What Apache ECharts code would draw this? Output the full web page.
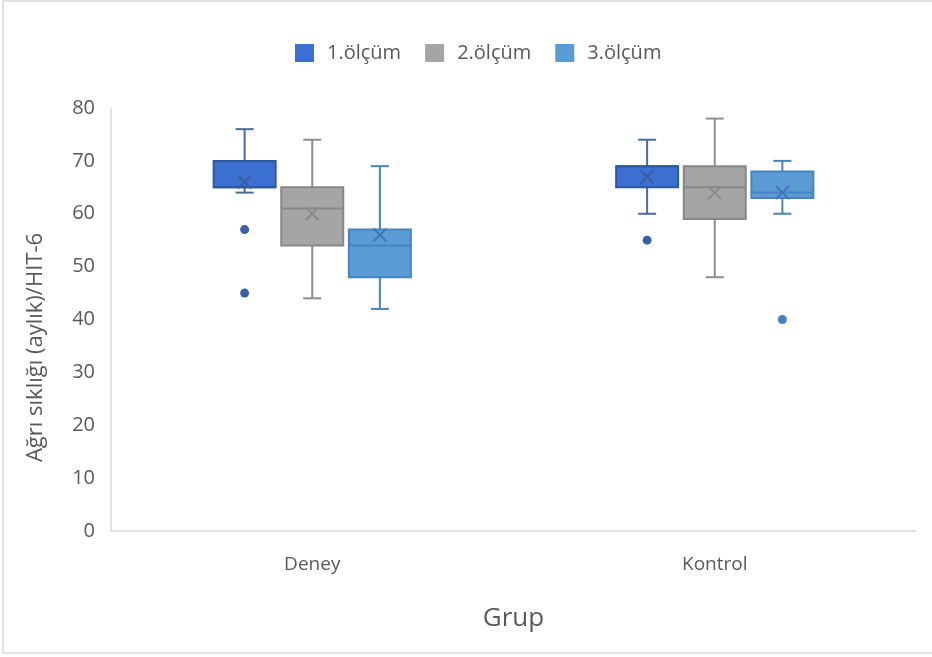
<!DOCTYPE html>
<html>
<head>
<meta charset="utf-8">
<script src="https://cdn.jsdelivr.net/npm/echarts@6/dist/echarts.min.js"></script>
<style>html,body{margin:0;padding:0;background:#fff}#c{width:932px;height:657px}</style>
</head>
<body>
<div id="c"></div>
<script>
// Data: [min, Q1, median, Q3, max] per category
const categories = ['Deney', 'Kontrol'];
const seriesNames = ['1.ölçüm', '2.ölçüm', '3.ölçüm'];
const olcum1 = [[64, 65, 65, 70, 76], [60, 65, 69, 69, 74]];
const olcum2 = [[44, 54, 61, 65, 74], [48, 59, 65, 69, 78]];
const olcum3 = [[42, 48, 54, 57, 69], [60, 63, 64, 68, 70]];
const means1 = [66, 67];
const means2 = [60, 64];
const means3 = [56, 64];
const outliers1 = [[0, 57], [0, 45], [1, 55]];
const outliers2 = [];
const outliers3 = [[1, 40]];
const yTicks = [0, 10, 20, 30, 40, 50, 60, 70, 80];

const boxes = [olcum1, olcum2, olcum3];
const means = [means1, means2, means3];
const outliers = [outliers1, outliers2, outliers3];
const fills = ['#3b6fd1', '#a5a5a5', '#5b9bd5'];
const borders = ['#2f58a3', '#878787', '#4683bf'];
const whiskerCols = ['#4a6a9c', '#8e8e8e', '#4a82bb'];
const meanCols = ['#3a5ea3', '#8a8a8a', '#3c74b8'];
const outCols = ['#3a5fa8', '#3a5fa8', '#4a7cc0'];

const OFFSET = 0.168; // fraction of band
const BOXW = 0.154;
const CAPW = 18;

function boxRender(si) {
  return function (params, api) {
    const cat = api.value(0);
    const band = api.size([1, 0])[0];
    const cx = api.coord([cat, 0])[0] + (si - 1) * OFFSET * band;
    const w = BOXW * band;
    const y = v => api.coord([cat, v])[1];
    const yMin = y(api.value(1)), yQ1 = y(api.value(2)), yMed = y(api.value(3)),
          yQ3 = y(api.value(4)), yMax = y(api.value(5)), yMean = y(api.value(6));
    const ws = { stroke: whiskerCols[si], lineWidth: 2 };
    const m = 6.5;
    return {
      type: 'group',
      children: [
        { type: 'line', shape: { x1: cx, y1: yQ3, x2: cx, y2: yMax }, style: ws },
        { type: 'line', shape: { x1: cx, y1: yQ1, x2: cx, y2: yMin }, style: ws },
        { type: 'line', shape: { x1: cx - CAPW / 2, y1: yMax, x2: cx + CAPW / 2, y2: yMax }, style: ws },
        { type: 'line', shape: { x1: cx - CAPW / 2, y1: yMin, x2: cx + CAPW / 2, y2: yMin }, style: ws },
        { type: 'rect', shape: { x: cx - w / 2, y: yQ3, width: w, height: yQ1 - yQ3 },
          style: { fill: fills[si], stroke: borders[si], lineWidth: 2 } },
        { type: 'line', shape: { x1: cx - w / 2, y1: yMed, x2: cx + w / 2, y2: yMed },
          style: { stroke: borders[si], lineWidth: 2 } },
        { type: 'line', shape: { x1: cx - m, y1: yMean - m, x2: cx + m, y2: yMean + m },
          style: { stroke: meanCols[si], lineWidth: 2 } },
        { type: 'line', shape: { x1: cx - m, y1: yMean + m, x2: cx + m, y2: yMean - m },
          style: { stroke: meanCols[si], lineWidth: 2 } }
      ]
    };
  };
}

function outRender(si) {
  return function (params, api) {
    const cat = api.value(0);
    const band = api.size([1, 0])[0];
    const p = api.coord([cat, api.value(1)]);
    const cx = p[0] + (si - 1) * OFFSET * band;
    return { type: 'circle', shape: { cx: cx, cy: p[1], r: 4.5 }, style: { fill: outCols[si] } };
  };
}

const series = [];
for (let si = 0; si < 3; si++) {
  series.push({
    name: seriesNames[si],
    type: 'custom',
    renderItem: boxRender(si),
    itemStyle: { color: fills[si] },
    encode: { x: 0, y: [1, 2, 3, 4, 5, 6] },
    data: boxes[si].map((b, ci) => [ci, b[0], b[1], b[2], b[3], b[4], means[si][ci]])
  });
  series.push({
    name: seriesNames[si],
    type: 'custom',
    renderItem: outRender(si),
    itemStyle: { color: fills[si] },
    encode: { x: 0, y: 1 },
    data: outliers[si]
  });
}

const chart = echarts.init(document.getElementById('c'));
chart.setOption({
  backgroundColor: '#ffffff',
  animation: false,
  graphic: [{
    type: 'rect', shape: { x: 3, y: 1, width: 960, height: 652 },
    style: { fill: 'none', stroke: '#d9d9d9', lineWidth: 1.5 }, silent: true
  }],
  legend: {
    top: 38, left: 290,
    icon: 'rect', itemWidth: 19, itemHeight: 18, itemGap: 24,
    data: seriesNames,
    textStyle: { fontFamily: 'Open Sans', fontSize: 20, color: '#595959', padding: [0, 0, 0, 8] }
  },
  grid: { left: 111, right: 16, top: 108, bottom: 126 },
  xAxis: {
    type: 'category',
    data: categories,
    name: 'Grup',
    nameLocation: 'middle',
    nameGap: 75,
    nameTextStyle: { fontFamily: 'Open Sans', fontSize: 26, color: '#595959' },
    axisLine: { lineStyle: { color: '#d9d9d9', width: 1.5 } },
    axisTick: { show: false },
    axisLabel: { fontFamily: 'Open Sans', fontSize: 19, color: '#595959', margin: 24 },
    splitLine: { show: false }
  },
  yAxis: {
    type: 'value',
    min: yTicks[0], max: yTicks[yTicks.length - 1], interval: 10,
    name: 'Ağrı sıklığı (aylık)/HIT-6',
    nameLocation: 'middle',
    nameGap: 64,
    nameTextStyle: { fontFamily: 'Open Sans', fontSize: 22, color: '#595959', padding: [0, 56, 0, 0] },
    axisLine: { show: true, lineStyle: { color: '#d9d9d9', width: 1.5 } },
    axisTick: { show: false },
    splitLine: { show: false },
    axisLabel: { fontFamily: 'Open Sans', fontSize: 20, color: '#595959', margin: 16 }
  },
  series: series
});
</script>
</body>
</html>
